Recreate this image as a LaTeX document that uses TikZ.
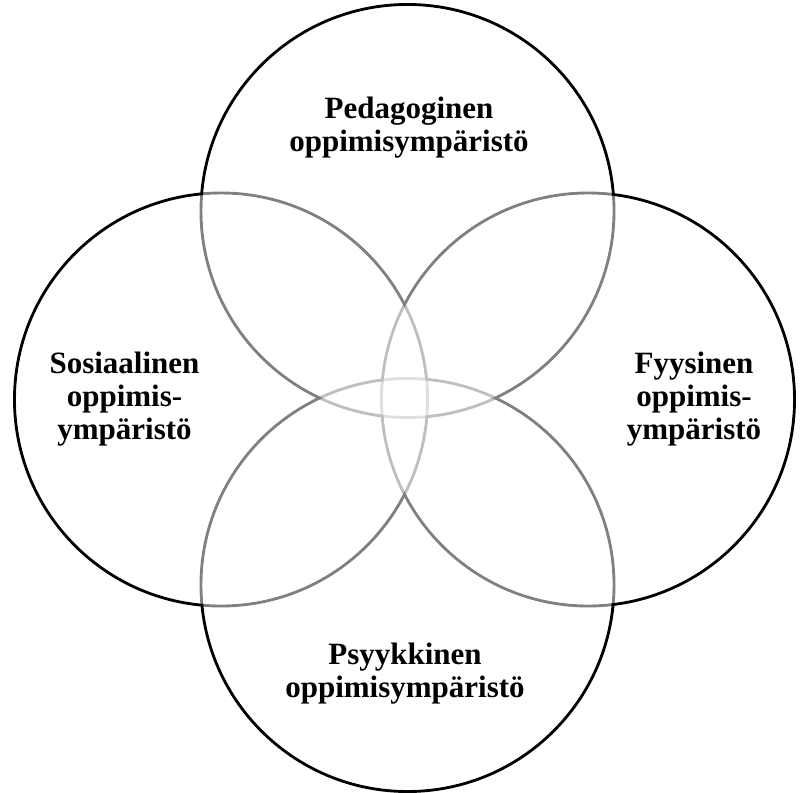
\documentclass[tikz,border=0pt]{standalone}
\usepackage{fontspec}
\setmainfont{Liberation Serif}
\begin{document}
\begin{tikzpicture}[x=1pt,y=-1pt,
  ring/.style={draw=black,line width=2.9pt,circle,minimum size=413pt,inner sep=0pt},
  veil/.style={fill=white,fill opacity=0.5},
  label/.style={align=center,font=\bfseries\fontsize{31}{33}\selectfont,inner sep=0pt}]
\useasboundingbox (0,0) rectangle (800,792);
% the four overlapping circles
\node[ring] (ped) at (407.5,211) {};
\node[ring] (sos) at (221,399.5) {};
\node[ring] (fyy) at (588,399.5) {};
\node[ring] (psy) at (407.5,585) {};
% translucent white discs lighten the outlines lying inside other circles
\foreach \c in {ped,sos,fyy,psy}
  \fill[veil] (\c.center) circle (205);
% labels
\node[label] (tped) at (409,128) {Pedagoginen\\oppimisympäristö};
\node[label] (tsos) at (124.5,399) {Sosiaalinen\\oppimis-\\ympäristö};
\node[label] (tfyy) at (694,399) {Fyysinen\\oppimis-\\ympäristö};
\node[label] (tpsy) at (405,674) {Psyykkinen\\oppimisympäristö};
\end{tikzpicture}
\end{document}
